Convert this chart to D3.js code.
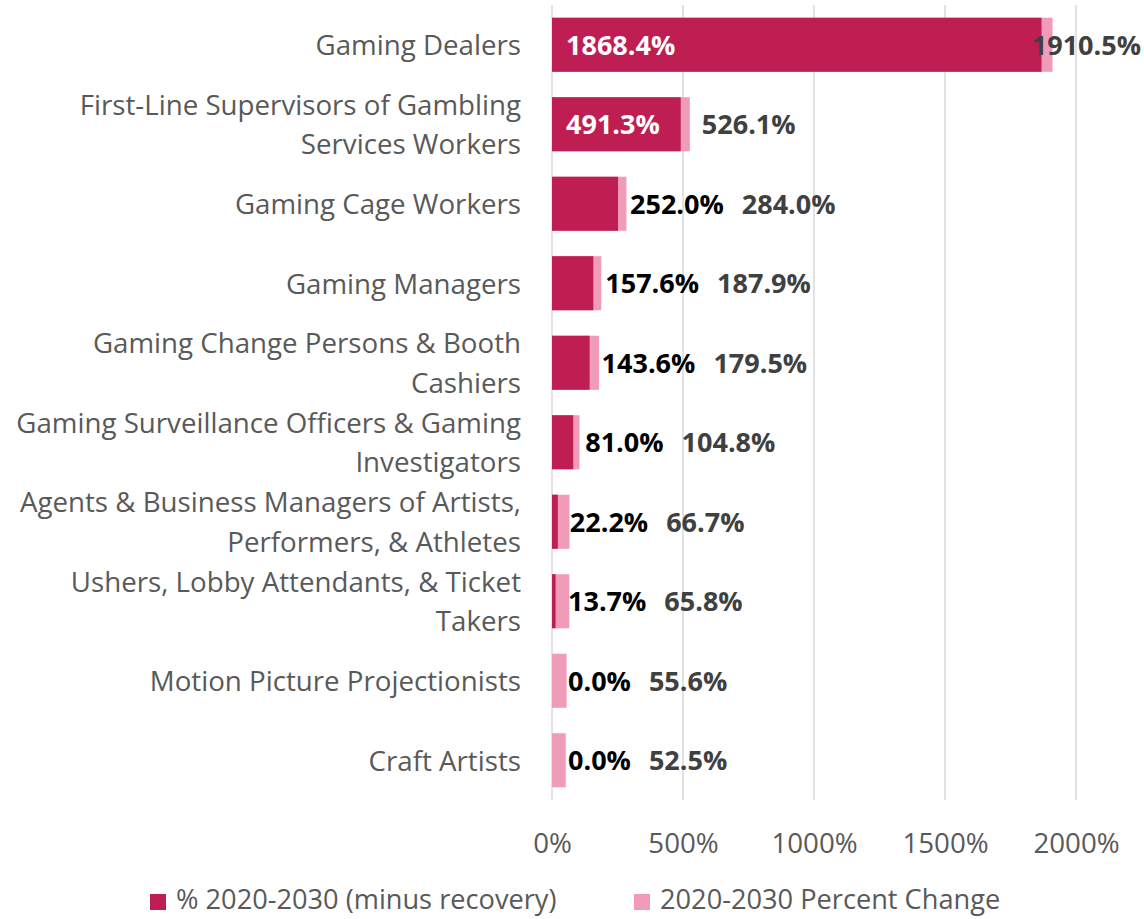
<!DOCTYPE html>
<html>
<head>
<meta charset="utf-8">
<script src="https://cdn.jsdelivr.net/npm/d3@7"></script>
<style>
  html, body { margin: 0; padding: 0; background: #fff; }
  svg { display: block; }
  text { font-family: "Open Sans", sans-serif; }
</style>
</head>
<body>
<svg id="chart" width="1144" height="919"></svg>
<script>
// ---- data ----
const categories = [
  ["Gaming Dealers"],
  ["First-Line Supervisors of Gambling", "Services Workers"],
  ["Gaming Cage Workers"],
  ["Gaming Managers"],
  ["Gaming Change Persons & Booth", "Cashiers"],
  ["Gaming Surveillance Officers & Gaming", "Investigators"],
  ["Agents & Business Managers of Artists,", "Performers, & Athletes"],
  ["Ushers, Lobby Attendants, & Ticket", "Takers"],
  ["Motion Picture Projectionists"],
  ["Craft Artists"]
];
const minusRecovery = [1868.4, 491.3, 252.0, 157.6, 143.6, 81.0, 22.2, 13.7, 0.0, 0.0];
const percentChange = [1910.5, 526.1, 284.0, 187.9, 179.5, 104.8, 66.7, 65.8, 55.6, 52.5];
const xTicks = [0, 500, 1000, 1500, 2000];
const seriesNames = ["% 2020-2030 (minus recovery)", "2020-2030 Percent Change"];
const colors = ["#BE1E52", "#F09CB8"];

// ---- layout ----
const svg = d3.select("#chart");
const W = 1144;
const FS = 27.7;   // category / axis text
const LS = 27.2;   // legend text
const VS = 27;     // value labels
const DY = 3;      // baseline correction
const x = d3.scaleLinear().domain([0, 2000]).range([552, 1076]);
const idx = d3.range(categories.length);
const y = d3.scaleBand().domain(idx).range([5, 800]).paddingInner(0.32).paddingOuter(0.16);

// gridlines
svg.append("g").selectAll("line").data(xTicks).join("line")
  .attr("x1", d => x(d)).attr("x2", d => x(d))
  .attr("y1", 5).attr("y2", 800)
  .attr("stroke", "#D9D9D9").attr("stroke-width", 1.5);

// x axis labels
const xAxis = d3.axisBottom(x).tickValues(xTicks).tickFormat(d => d + "%").tickSize(0).tickPadding(0);
const gx = svg.append("g").attr("transform", "translate(0,843)").call(xAxis);
gx.select(".domain").remove();
gx.selectAll("text").attr("font-size", FS).attr("fill", "#595959")
  .attr("dy", DY).attr("y", 0).attr("dominant-baseline", "middle")
  .style("font-family", "'Open Sans', sans-serif");

// bars: pink behind, dark in front
svg.append("g").selectAll("rect").data(idx).join("rect")
  .attr("x", x(0)).attr("y", i => y(i))
  .attr("width", i => x(percentChange[i]) - x(0))
  .attr("height", y.bandwidth())
  .attr("fill", colors[1]);
svg.append("g").selectAll("rect").data(idx).join("rect")
  .attr("x", x(0)).attr("y", i => y(i))
  .attr("width", i => x(minusRecovery[i]) - x(0))
  .attr("height", y.bandwidth())
  .attr("fill", colors[0]);

// category labels
const cat = svg.append("g").selectAll("text").data(idx).join("text")
  .attr("text-anchor", "end").attr("font-size", FS).attr("fill", "#595959");
cat.each(function(i) {
  const lines = categories[i];
  const cy = y(i) + y.bandwidth() / 2 + DY;
  const lh = 39.5;
  const t = d3.select(this);
  lines.forEach((l, k) => {
    t.append("tspan").attr("x", 521)
      .attr("y", cy + (k - (lines.length - 1) / 2) * lh)
      .attr("dominant-baseline", "middle")
      .text(l);
  });
});

// value labels
const fmt = v => v.toFixed(1) + "%";
const labels = svg.append("g");
idx.forEach(i => {
  const cy = y(i) + y.bandwidth() / 2 + DY;
  const inside = minusRecovery[i] > 400;
  const dl = labels.append("text")
    .attr("font-size", VS).attr("font-weight", "bold")
    .attr("dominant-baseline", "middle")
    .attr("y", cy)
    .attr("fill", inside ? "#FFFFFF" : "#000000")
    .attr("x", inside ? x(0) + 14 : Math.max(x(minusRecovery[i]) + 12, x(0) + 16))
    .text(fmt(minusRecovery[i]));
  let minLeft = x(percentChange[i]) + 12;
  if (!inside) {
    const bb = dl.node().getBBox();
    minLeft = Math.max(minLeft, bb.x + bb.width + 18);
  }
  const pl = labels.append("text")
    .attr("font-size", VS).attr("font-weight", "bold")
    .attr("dominant-baseline", "middle")
    .attr("y", cy).attr("fill", "#404040")
    .text(fmt(percentChange[i]));
  const w = pl.node().getComputedTextLength();
  const left = Math.min(minLeft, W - 3 - w);
  pl.attr("x", left);
});

// legend
const legend = svg.append("g");
const legX = [150, 634];
seriesNames.forEach((n, k) => {
  legend.append("rect").attr("x", legX[k]).attr("y", 894).attr("width", 16).attr("height", 16).attr("fill", colors[k]);
  legend.append("text").attr("x", legX[k] + 26).attr("y", 899 + DY)
    .attr("dominant-baseline", "middle").attr("font-size", LS).attr("fill", "#595959").text(n);
});
</script>
</body>
</html>
